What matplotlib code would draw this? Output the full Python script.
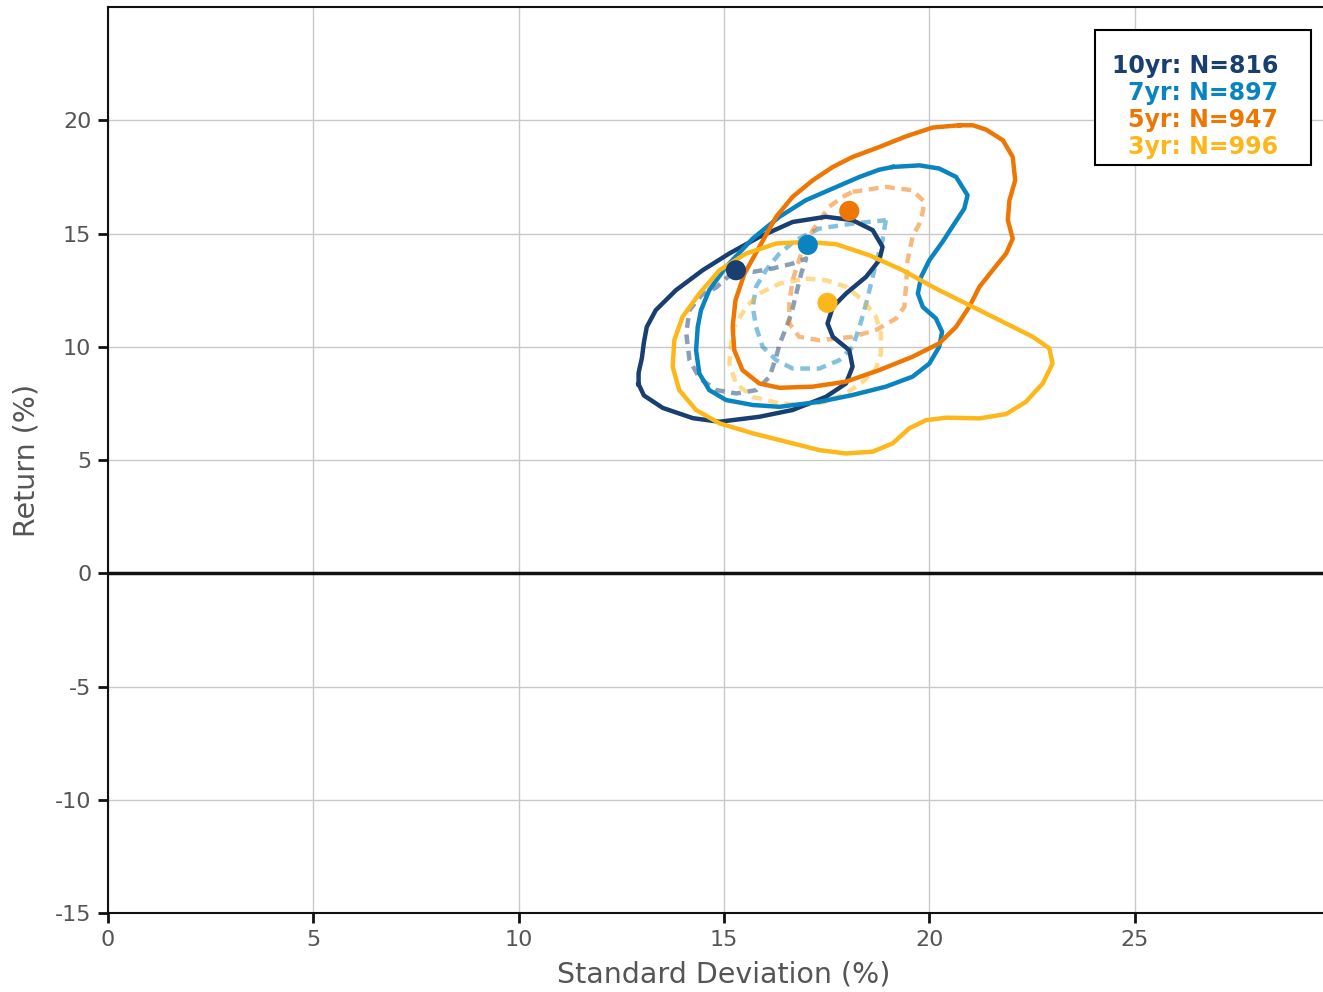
import numpy as np
import matplotlib
matplotlib.use("Agg")
import matplotlib.pyplot as plt

plt.rcParams["axes.unicode_minus"] = False

#-----------------------------------DATA
labels = ["10yr", "7yr", "5yr", "3yr"]
counts = [816, 897, 947, 996]
colors = ["#183f70", "#0a84c0", "#ee7703", "#fdb71a"]

# mean points (std dev, return)
pt_x = [15.29, 17.04, 18.05, 17.52]
pt_y = [13.38, 14.50, 16.00, 11.94]

# outer (solid) contours
outer_10 = [(12.92, 8.35), (12.92, 8.85), (13.00, 9.50), (13.05, 10.20), (13.12, 10.88),
            (13.34, 11.62), (13.83, 12.50), (14.48, 13.38), (15.13, 14.12), (15.86, 14.85),
            (16.67, 15.51), (17.48, 15.74), (18.13, 15.59), (18.62, 15.15), (18.86, 14.41),
            (18.78, 13.82), (18.46, 13.09), (17.97, 12.35), (17.65, 11.76), (17.52, 11.03),
            (17.65, 10.44), (18.05, 9.85), (18.13, 9.12), (17.97, 8.38), (17.48, 7.79),
            (16.67, 7.21), (15.86, 6.91), (14.89, 6.69), (14.24, 6.85), (13.51, 7.30),
            (13.05, 7.85)]
outer_7 = [(19.11, 17.94), (19.76, 18.01), (20.24, 17.87), (20.65, 17.50), (20.93, 16.69),
           (20.85, 16.10), (20.61, 15.44), (20.32, 14.63), (20.00, 13.82), (19.80, 13.09),
           (19.72, 12.35), (19.84, 11.76), (20.16, 11.25), (20.31, 10.66), (20.24, 10.00),
           (20.00, 9.26), (19.59, 8.68), (18.94, 8.24), (18.13, 7.87), (17.32, 7.57),
           (16.35, 7.35), (15.70, 7.43), (15.05, 7.65), (14.64, 8.09), (14.40, 8.82),
           (14.32, 9.85), (14.36, 10.88), (14.44, 11.62), (14.64, 12.50), (15.05, 13.53),
           (15.70, 14.78), (16.35, 15.74), (16.99, 16.47), (17.65, 16.99), (18.30, 17.50),
           (18.78, 17.82)]
outer_5 = [(20.73, 19.78), (20.08, 19.68), (19.43, 19.29), (18.78, 18.82), (18.13, 18.38),
           (17.65, 17.94), (17.16, 17.35), (16.67, 16.62), (16.27, 15.74), (15.86, 14.41),
           (15.50, 13.24), (15.28, 12.06), (15.21, 10.88), (15.25, 9.85), (15.45, 8.97),
           (15.86, 8.38), (16.35, 8.19), (17.16, 8.24), (17.97, 8.46), (18.78, 8.97),
           (19.59, 9.56), (20.24, 10.15), (20.65, 10.88), (20.97, 11.76), (21.22, 12.65),
           (21.54, 13.38), (21.87, 14.12), (22.03, 14.78), (21.91, 15.59), (21.95, 16.47),
           (22.09, 17.35), (22.03, 18.38), (21.79, 19.12), (21.38, 19.59), (21.06, 19.78)]
outer_3 = [(16.99, 14.63), (17.73, 14.53), (18.54, 14.04), (19.35, 13.38), (20.16, 12.57),
           (20.97, 11.84), (21.79, 11.10), (22.52, 10.44), (22.92, 9.93), (23.00, 9.26),
           (22.76, 8.38), (22.35, 7.57), (21.87, 7.03), (21.22, 6.84), (20.41, 6.87),
           (19.92, 6.76), (19.51, 6.40), (19.11, 5.74), (18.62, 5.37), (17.97, 5.29),
           (17.32, 5.44), (16.51, 5.81), (15.70, 6.18), (14.89, 6.62), (14.32, 7.21),
           (13.91, 8.09), (13.75, 9.12), (13.79, 10.29), (13.99, 11.32), (14.40, 12.35),
           (14.89, 13.38), (15.54, 14.12), (16.27, 14.56)]

# inner (dashed) contours
inner_10 = [(15.30, 13.38), (15.71, 13.31), (16.19, 13.46), (16.68, 13.68), (17.00, 13.90),
            (16.88, 13.24), (16.76, 12.35), (16.64, 11.47), (16.52, 10.88), (16.36, 10.15),
            (16.27, 9.56), (16.11, 8.68), (15.79, 8.09), (15.30, 7.94), (14.81, 8.09),
            (14.41, 8.60), (14.16, 9.41), (14.08, 10.59), (14.16, 11.62), (14.45, 12.28),
            (14.81, 12.62), (15.14, 13.16)]
inner_7 = [(18.94, 15.59), (18.86, 14.71), (18.70, 13.68), (18.58, 12.79), (18.46, 11.91),
           (18.30, 10.88), (18.13, 10.00), (17.81, 9.41), (17.32, 9.04), (16.67, 9.04),
           (16.27, 9.41), (15.94, 10.00), (15.78, 10.88), (15.70, 11.76), (15.78, 12.65),
           (16.02, 13.38), (16.35, 14.12), (16.75, 14.71), (17.32, 15.22), (18.13, 15.44)]
inner_5 = [(18.13, 16.84), (18.94, 17.06), (19.59, 16.91), (19.88, 16.40), (19.80, 15.59),
           (19.59, 14.85), (19.47, 13.82), (19.43, 12.65), (19.39, 11.76), (19.19, 11.25),
           (18.70, 10.74), (18.13, 10.44), (17.32, 10.29), (16.83, 10.44), (16.59, 11.03),
           (16.59, 11.91), (16.67, 12.94), (16.88, 14.12), (17.16, 15.15), (17.56, 16.18),
           (17.89, 16.62)]
inner_3 = [(16.99, 13.01), (17.48, 12.94), (17.97, 12.65), (18.38, 12.06), (18.70, 11.32),
           (18.82, 10.59), (18.82, 9.71), (18.70, 9.04), (18.38, 8.46), (17.97, 7.94),
           (17.48, 7.57), (16.99, 7.43), (16.35, 7.50), (15.70, 7.79), (15.29, 8.38),
           (15.13, 9.26), (15.17, 10.15), (15.25, 10.88), (15.54, 11.76), (15.86, 12.35),
           (16.35, 12.79)]

outers = [outer_10, outer_7, outer_5, outer_3]
inners = [inner_10, inner_7, inner_5, inner_3]

x_ticks = [0, 5, 10, 15, 20, 25]
y_ticks = [-15, -10, -5, 0, 5, 10, 15, 20]

#-----------------------------------PLOT
fig = plt.figure(figsize=(13.23, 9.92), dpi=100)
# axes runs a little past the right edge of the figure (cut off like the original)
ax = fig.add_axes([0.0816, 0.0796, 0.9313, 0.9133])

ax.grid(True, color="#c8c8c8", linewidth=1.0)
ax.set_axisbelow(True)
ax.axhline(0, color="#111111", linewidth=2.5, zorder=2)

def closed(pts):
    arr = np.array(pts + [pts[0]])
    return arr[:, 0], arr[:, 1]

# dashed inner contours first, solid outer on top
for pts, c in zip(inners, colors):
    xs, ys = closed(pts)
    ax.plot(xs, ys, color=c, linewidth=3.2, linestyle=(0, (2.2, 1.5)), alpha=0.5,
            solid_joinstyle="round", dash_joinstyle="round", zorder=3)

for pts, c in zip(outers, colors):
    xs, ys = closed(pts)
    ax.plot(xs, ys, color=c, linewidth=3.2, solid_joinstyle="round", zorder=4)

for px, py, c in zip(pt_x, pt_y, colors):
    ax.scatter(px, py, s=210, color=c, zorder=5, edgecolors="none")

ax.set_xlim(0, 30)
ax.set_ylim(-15, 25)
ax.set_xticks(x_ticks)
ax.set_yticks(y_ticks)
ax.tick_params(axis="both", colors="#111111", labelcolor="#555555", labelsize=16,
               length=7, width=2, pad=5)
ax.set_xlabel("Standard Deviation (%)", fontsize=20.5, color="#555555", labelpad=8)
ax.set_ylabel("Return (%)", fontsize=20.5, color="#555555", labelpad=10)

for s in ["left", "bottom", "top"]:
    ax.spines[s].set_color("#111111")
    ax.spines[s].set_linewidth(1.5)
ax.spines["right"].set_visible(False)

# legend box with coloured text
legend_lines = [f"{l}: N={n}" for l, n in zip(labels, counts)]
box = plt.Rectangle((0.8011, 0.8256), 0.1753, 0.149, transform=ax.transAxes,
                    facecolor="white", edgecolor="black", linewidth=1.5, zorder=6)
ax.add_patch(box)
for i, (txt, c) in enumerate(zip(legend_lines, colors)):
    ax.text(0.9497, 0.9345 - i * 0.0298, txt, transform=ax.transAxes, ha="right",
            va="center", color=c, fontsize=17, fontweight="bold", zorder=7)

plt.savefig("out.png", dpi=100)
